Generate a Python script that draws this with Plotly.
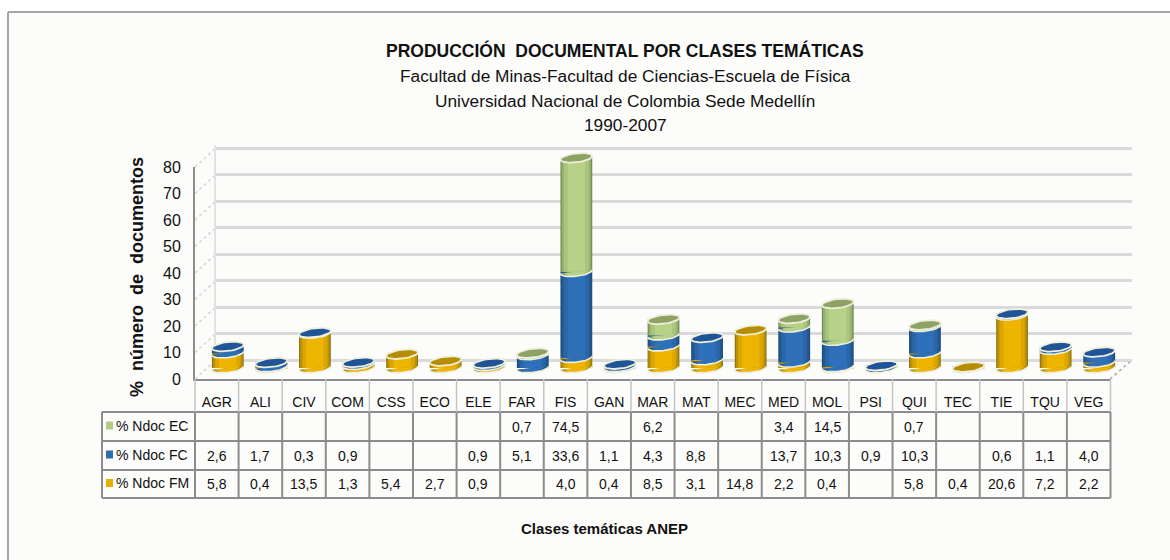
import numpy as np
import plotly.graph_objects as go

CATEGORIES = ["AGR", "ALI", "CIV", "COM", "CSS", "ECO", "ELE", "FAR", "FIS", "GAN", "MAR",
              "MAT", "MEC", "MED", "MOL", "PSI", "QUI", "TEC", "TIE", "TQU", "VEG"]
NDOC_EC = [None, None, None, None, None, None, None, 0.7, 74.5, None, 6.2,
           None, None, 3.4, 14.5, None, 0.7, None, None, None, None]
# the original column for FIS is drawn about 44.5 tall although its table cell reads 74,5
NDOC_EC_DRAWN = [None, None, None, None, None, None, None, 0.7, 44.5, None, 6.2,
                 None, None, 3.4, 14.5, None, 0.7, None, None, None, None]
NDOC_FC = [2.6, 1.7, 0.3, 0.9, None, None, 0.9, 5.1, 33.6, 1.1, 4.3,
           8.8, None, 13.7, 10.3, 0.9, 10.3, None, 0.6, 1.1, 4.0]
NDOC_FM = [5.8, 0.4, 13.5, 1.3, 5.4, 2.7, 0.9, None, 4.0, 0.4, 8.5,
           3.1, 14.8, 2.2, 0.4, None, 5.8, 0.4, 20.6, 7.2, 2.2]
Y_TICKS = [0, 10, 20, 30, 40, 50, 60, 70, 80]

W, H = 1170, 560
BG = "#FCFCFA"
RING = "#EFEEDC"
FONT = "Liberation Sans"

# bottom to top, the table shows them in reverse
SERIES = [
    dict(name="% Ndoc FM", vals=NDOC_FM, drawn=NDOC_FM, key="#E8AE00", top="#B68C00",
         ramp=["#8F7312", "#B8920A", "#DBA600", "#EDB500"]),
    dict(name="% Ndoc FC", vals=NDOC_FC, drawn=NDOC_FC, key="#2E6DB4", top="#1F5596",
         ramp=["#1C4A7E", "#24598F", "#2A66A8", "#2E70BA"]),
    dict(name="% Ndoc EC", vals=NDOC_EC, drawn=NDOC_EC_DRAWN, key="#B3CC85", top="#8DA365",
         ramp=["#6F8A55", "#94AE6C", "#AAC47C", "#B8D188"]),
]
LAYER_WIDTHS = [0.73, 0.68, 0.58, 0.40]
HALF_W = LAYER_WIDTHS[0] / 2
ELL_B = 1.75   # half height of a disc, in % units
TILT = 0.7


def fx(px):
    return px / W


def fy(py):
    return 1 - py / H


def ellipse(xc, yc, a=HALF_W, b=ELL_B, t0=0.0, t1=2 * np.pi):
    t = np.linspace(t0, t1, 40)
    xs = xc + a * np.cos(t)
    ys = yc + b * np.sin(t) + TILT * np.cos(t) * a / HALF_W
    return list(xs) + [None], list(ys) + [None]


def poly_trace(xs, ys, fill=None, line=None, width=1.5):
    return go.Scatter(
        x=xs, y=ys, xaxis="x2", yaxis="y2", mode="lines",
        fill="toself" if fill else "none", fillcolor=fill,
        line=dict(color=line or "rgba(0,0,0,0)", width=width if line else 0),
        hoverinfo="skip", showlegend=False, cliponaxis=False,
    )


fig = go.Figure()

# back wall axes only carry the gridlines
fig.add_trace(go.Scatter(x=[0], y=[0], xaxis="x", yaxis="y", mode="none",
                         hoverinfo="skip", showlegend=False))
# front plane carries ticks and category labels
fig.add_trace(go.Scatter(x=[0], y=[0], xaxis="x3", yaxis="y3", mode="none",
                         hoverinfo="skip", showlegend=False))

idx = list(range(len(CATEGORIES)))
bottoms = [0.0] * len(idx)
segs = []
for s in SERIES:
    vals = [v or 0 for v in s["drawn"]]
    base = list(bottoms)
    for w, c in zip(LAYER_WIDTHS, s["ramp"]):
        fig.add_trace(go.Bar(
            x=idx, y=vals, base=base, width=w, name=s["name"], xaxis="x2", yaxis="y2",
            marker=dict(color=c, line=dict(width=0)),
            hoverinfo="skip", showlegend=False,
        ))
    segs.append((s, vals, base))
    bottoms = [b + v for b, v in zip(bottoms, vals)]

# curved lower edge of every segment, then the disc on the top one
for s, vals, base in segs:
    fx_out, fy_out, fx_in, fy_in, ax, ay = [], [], [], [], [], []
    for i in idx:
        if not vals[i]:
            continue
        xs, ys = ellipse(i, base[i], t0=np.pi, t1=2 * np.pi)
        fx_out += xs
        fy_out += ys
        ax += xs
        ay += ys
        xs, ys = ellipse(i, base[i], a=HALF_W * 0.72, b=ELL_B * 0.95, t0=np.pi, t1=2 * np.pi)
        fx_in += xs
        fy_in += ys
    fig.add_trace(poly_trace(fx_out, fy_out, fill=s["ramp"][1]))
    fig.add_trace(poly_trace(fx_in, fy_in, fill=s["ramp"][3]))
    fig.add_trace(poly_trace(ax, ay, line=RING, width=1.6))

for k, (s, vals, base) in enumerate(segs):
    xs_top, ys_top = [], []
    for i in idx:
        upper = sum(u[1][i] for u in segs[k + 1:])
        if vals[i] and not upper:
            xs, ys = ellipse(i, base[i] + vals[i])
            xs_top += xs
            ys_top += ys
    fig.add_trace(poly_trace(xs_top, ys_top, fill=s["top"], line=RING, width=1.8))

# frame and 3D box, table rules
shapes = [
    dict(type="rect", xref="paper", yref="paper", x0=0, x1=fx(8), y0=0, y1=1,
         fillcolor="#FFFFFF", line=dict(width=0), layer="below"),
    dict(type="rect", xref="paper", yref="paper", x0=0, x1=1, y0=fy(12), y1=1,
         fillcolor="#FFFFFF", line=dict(width=0), layer="below"),
    dict(type="line", xref="paper", yref="paper", x0=fx(8), x1=fx(8), y0=fy(12), y1=0,
         line=dict(color="#A6A6A6", width=2)),
    dict(type="line", xref="paper", yref="paper", x0=fx(8), x1=1, y0=fy(12), y1=fy(12),
         line=dict(color="#A6A6A6", width=2)),
]
for v in Y_TICKS:
    shapes.append(dict(type="line", xref="paper", yref="paper",
                       x0=fx(195), x1=fx(216), y0=fy(379 - v * 2.65), y1=fy(360 - v * 2.65),
                       line=dict(color="#D4D4D4", width=1.5, dash="dot"), layer="below"))
shapes.append(dict(type="line", xref="paper", yref="paper", x0=fx(1110), x1=fx(1132),
                   y0=fy(379), y1=fy(360), line=dict(color="#A8A8A8", width=1.5, dash="dot"),
                   layer="below"))

TABLE_L, TABLE_R = 102, 1110.5
COL_L = 195
COL_W = (TABLE_R - COL_L) / len(CATEGORIES)
ROWS = [412, 441, 470, 498]
for r in ROWS:
    shapes.append(dict(type="line", xref="paper", yref="paper", x0=fx(TABLE_L), x1=fx(TABLE_R),
                       y0=fy(r), y1=fy(r), line=dict(color="#8C8C8C", width=2)))
shapes.append(dict(type="line", xref="paper", yref="paper", x0=fx(TABLE_L), x1=fx(TABLE_L),
                   y0=fy(ROWS[0]), y1=fy(ROWS[-1]), line=dict(color="#8C8C8C", width=2)))
for i in range(len(CATEGORIES) + 1):
    xp = COL_L + i * COL_W
    shapes.append(dict(type="line", xref="paper", yref="paper", x0=fx(xp), x1=fx(xp),
                       y0=fy(ROWS[0]), y1=fy(ROWS[-1]), line=dict(color="#8C8C8C", width=2)))
    shapes.append(dict(type="line", xref="paper", yref="paper", x0=fx(xp), x1=fx(xp),
                       y0=fy(379), y1=fy(ROWS[0]), line=dict(color="#C4C4C4", width=1.5)))

annotations = []


def text(px, py, s, size=14, bold=False, angle=0, anchor="center", color="#111111"):
    annotations.append(dict(
        x=fx(px), y=fy(py), xref="paper", yref="paper", text=f"<b>{s}</b>" if bold else s,
        showarrow=False, xanchor=anchor, yanchor="middle", textangle=angle,
        font=dict(family=FONT, size=size, color=color),
    ))


text(625, 50, "PRODUCCIÓN  DOCUMENTAL POR CLASES TEMÁTICAS", size=17.5, bold=True)
text(625, 76, "Facultad de Minas-Facultad de Ciencias-Escuela de Física", size=17.3)
text(625, 101, "Universidad Nacional de Colombia Sede Medellín", size=17.3)
text(625, 125, "1990-2007", size=17.3)
text(137, 277, "%  número  de  documentos", size=18, bold=True, angle=-90)
text(604, 528, "Clases temáticas ANEP", size=15, bold=True)

# table body: top row is EC, as in the original
for row, s in enumerate(reversed(SERIES)):
    yc = (ROWS[row] + ROWS[row + 1]) / 2
    text(152, yc - 1, s["name"], size=14)
    shapes.append(dict(type="rect", xref="paper", yref="paper", x0=fx(106), x1=fx(113),
                       y0=fy(yc - 5), y1=fy(yc + 3), fillcolor=s["key"], line=dict(width=0)))
    for i, v in enumerate(s["vals"]):
        if v is not None:
            text(COL_L + (i + 0.5) * COL_W, yc, f"{v:.1f}".replace(".", ","), size=14)


def dom_x(a, b):
    return [fx(a), fx(b)]


def dom_y(bottom, top):
    return [fy(bottom), fy(top)]


fig.update_layout(
    width=W, height=H,
    margin=dict(l=0, r=0, t=0, b=0, autoexpand=False),
    paper_bgcolor=BG, plot_bgcolor="rgba(0,0,0,0)",
    barmode="overlay",
    showlegend=False,
    shapes=shapes,
    annotations=annotations,
    # back wall, range a little wider so the 0 and 80 gridlines are still drawn
    xaxis=dict(domain=dom_x(216, 1132), range=[0, 1], showticklabels=False, showgrid=False,
               zeroline=False, anchor="y", ticks=""),
    yaxis=dict(domain=dom_y(362.65, 145.35), range=[-1, 81], tickvals=Y_TICKS,
               showticklabels=False, gridcolor="#DADADA", gridwidth=3, zeroline=False,
               anchor="x", ticks="", showline=True, linecolor="#E2E2E2", linewidth=2),
    # bars
    xaxis2=dict(domain=dom_x(206, 1121), range=[-0.5, len(CATEGORIES) - 0.5], visible=False,
                anchor="y2"),
    yaxis2=dict(domain=dom_y(378.24, 137.6), range=[-4, 90], visible=False, anchor="x2"),
    # front plane
    xaxis3=dict(domain=dom_x(195, 1110.5), range=[-0.5, len(CATEGORIES) - 0.5],
                tickvals=idx, ticktext=CATEGORIES, ticks="", ticklabelstandoff=9,
                tickfont=dict(family=FONT, size=14, color="#111111"), showgrid=False,
                zeroline=False, showline=True, linecolor="#8C8C8C", linewidth=2, anchor="y3"),
    yaxis3=dict(domain=dom_y(379, 167), range=[0, 80], tickvals=Y_TICKS, ticks="",
                tickfont=dict(family=FONT, size=16, color="#111111"), ticklabelstandoff=9,
                showgrid=False, zeroline=False, showline=True, linecolor="#8C8C8C",
                linewidth=2, anchor="x3"),
)

# the page's default margins would push the figure off the window
fig.write_html("out.html", config=dict(displayModeBar=False), post_script=(
    "var g = document.getElementById('{plot_id}');"
    "document.body.style.margin = '0';"
    "g.style.position = 'absolute'; g.style.left = '0'; g.style.top = '0';"
))
